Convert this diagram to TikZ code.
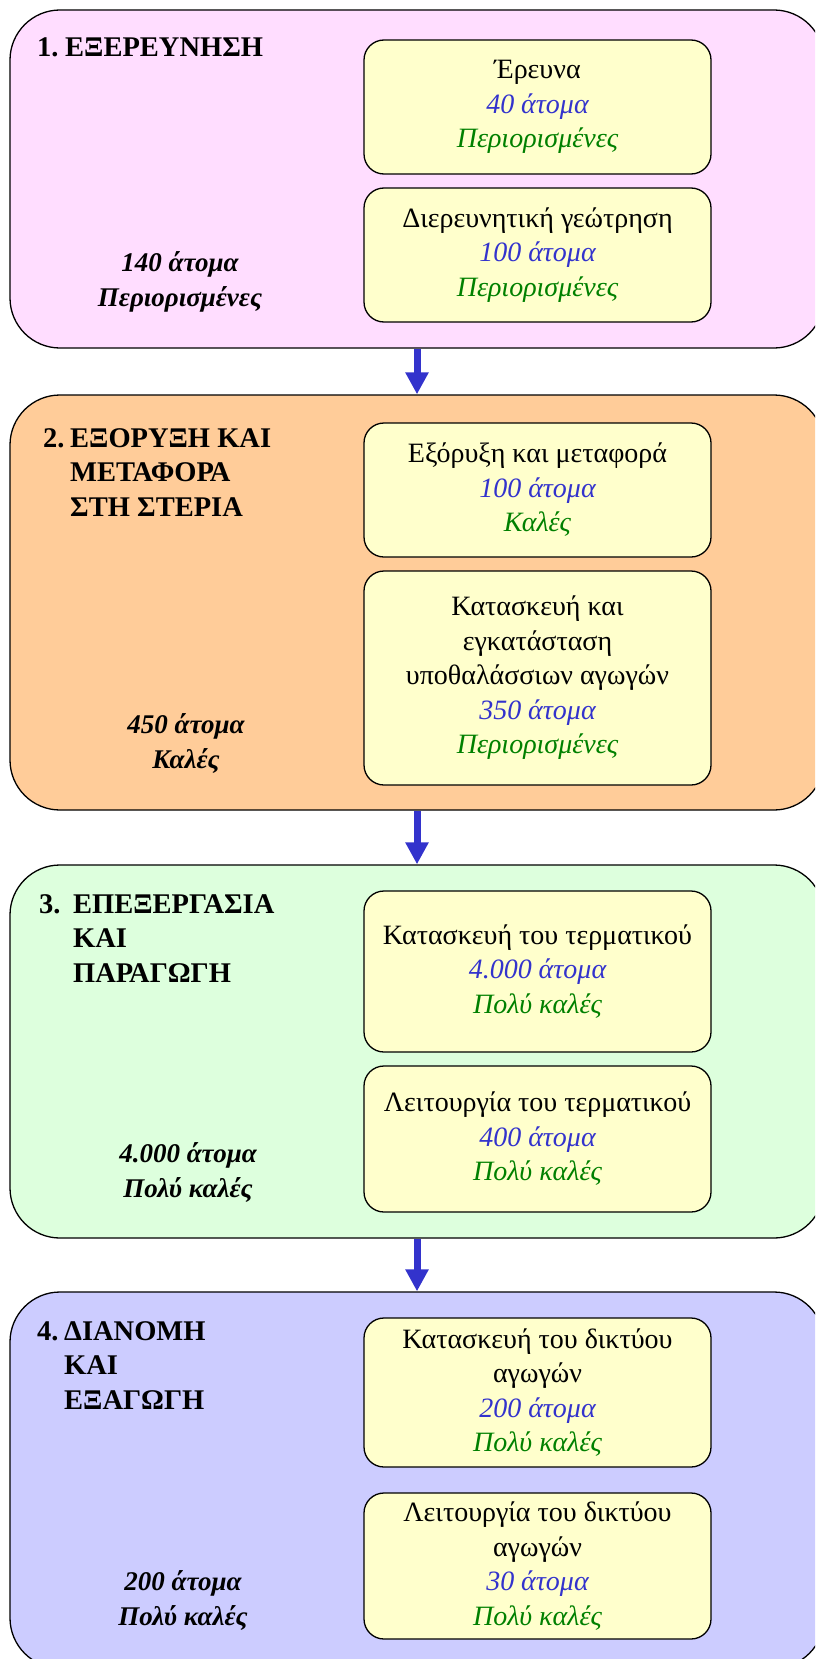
\documentclass[tikz,border=0pt]{standalone}
\usepackage{fontspec}
\setmainfont{Liberation Serif}
\usepackage{tikz}
\usetikzlibrary{arrows.meta}
\definecolor{stagepink}{HTML}{FFDDFF}
\definecolor{stagepeach}{HTML}{FFCC99}
\definecolor{stagegreen}{HTML}{DDFFDD}
\definecolor{stagelilac}{HTML}{CCCCFF}
\definecolor{taskyellow}{HTML}{FFFFCC}
\definecolor{peopleblue}{HTML}{3333CC}
\definecolor{chancegreen}{HTML}{008000}
\definecolor{arrowblue}{HTML}{3333CC}
\newcommand{\people}[1]{\textcolor{peopleblue}{\itshape #1}}
\newcommand{\chance}[1]{\textcolor{chancegreen}{\itshape #1}}

\begin{document}
\begin{tikzpicture}[x=1pt, y=-1pt,
        stage/.style={draw=black, line width=1.3pt, rounded corners=50pt,
          minimum width=814pt, inner sep=0pt},
        task/.style={draw=black, line width=1.3pt, fill=taskyellow, rounded corners=20pt,
          minimum width=347pt, align=center, inner sep=0pt,
          font=\fontsize{28}{34.5}\selectfont},
        title/.style={anchor=base west, align=left, inner sep=0pt,
          font=\fontsize{28.5}{34.5}\selectfont\bfseries},
        total/.style={anchor=base, align=center, inner sep=0pt,
          font=\fontsize{27}{34.5}\selectfont\bfseries\itshape},
        flow/.style={draw=arrowblue, line width=7pt, -{Triangle[width=22pt,length=22pt]}}]
        \clip (0,0) rectangle (815,1659);
        % the four stages
        \node[stage, fill=stagepink, minimum height=338pt] (stage1) at (417,179) {};
        \node[stage, fill=stagepeach, minimum height=415pt] (stage2) at (417,602.5) {};
        \node[stage, fill=stagegreen, minimum height=373pt] (stage3) at (417,1051.5) {};
        \node[stage, fill=stagelilac, minimum height=376pt] (stage4) at (417,1480) {};
        \foreach \i\j in {1/2, 2/3, 3/4} {
          \draw[flow] (stage\i.south) -- (stage\j.north);
        };
        % titles (base = last line)
        \node[title] (num1) at (37,57) {1.};
        \node[title] (title1) at (65,57) {ΕΞΕΡΕΥΝΗΣΗ};
        \node[title] (num2) at (43,447) {2.};
        \node[title] (title2) at (70,516) {ΕΞΟΡΥΞΗ ΚΑΙ\\ΜΕΤΑΦΟΡΑ\\ΣΤΗ ΣΤΕΡΙΑ};
        \node[title] (num3) at (39,913) {3.};
        \node[title] (title3) at (73,982) {ΕΠΕΞΕΡΓΑΣΙΑ\\ΚΑΙ\\ΠΑΡΑΓΩΓΗ};
        \node[title] (num4) at (37,1340) {4.};
        \node[title] (title4) at (64,1409) {ΔΙΑΝΟΜΗ\\ΚΑΙ\\ΕΞΑΓΩΓΗ};
        % totals
        \node[total] (total1) at (180,306) {140 άτομα\\Περιορισμένες};
        \node[total] (total2) at (186,768) {450 άτομα\\Καλές};
        \node[total] (total3) at (188,1197) {4.000 άτομα\\Πολύ καλές};
        \node[total] (total4) at (183,1625) {200 άτομα\\Πολύ καλές};
        % activities
        \node[task, minimum height=134pt] (research) at (537.5,107)
          {Έρευνα\\\people{40 άτομα}\\\chance{Περιορισμένες}};
        \node[task, minimum height=134pt] (drilling) at (537.5,255)
          {Διερευνητική γεώτρηση\\\people{100 άτομα}\\\chance{Περιορισμένες}};
        \node[task, minimum height=134pt] (extraction) at (537.5,490)
          {Εξόρυξη και μεταφορά\\\people{100 άτομα}\\\chance{Καλές}};
        \node[task, minimum height=214pt] (pipelines) at (537.5,678)
          {Κατασκευή και\\εγκατάσταση\\υποθαλάσσιων αγωγών\\\people{350 άτομα}\\\chance{Περιορισμένες}};
        \node[task, minimum height=161pt] (terminalbuild) at (537.5,971.5)
          {Κατασκευή του τερματικού\\\people{4.000 άτομα}\\\chance{Πολύ καλές}};
        \node[task, minimum height=146pt] (terminalrun) at (537.5,1139)
          {Λειτουργία του τερματικού\\\people{400 άτομα}\\\chance{Πολύ καλές}};
        \node[task, minimum height=149pt] (networkbuild) at (537.5,1392.5)
          {Κατασκευή του δικτύου\\αγωγών\\\people{200 άτομα}\\\chance{Πολύ καλές}};
        \node[task, minimum height=146pt] (networkrun) at (537.5,1566)
          {Λειτουργία του δικτύου\\αγωγών\\\people{30 άτομα}\\\chance{Πολύ καλές}};
\end{tikzpicture}
\end{document}
